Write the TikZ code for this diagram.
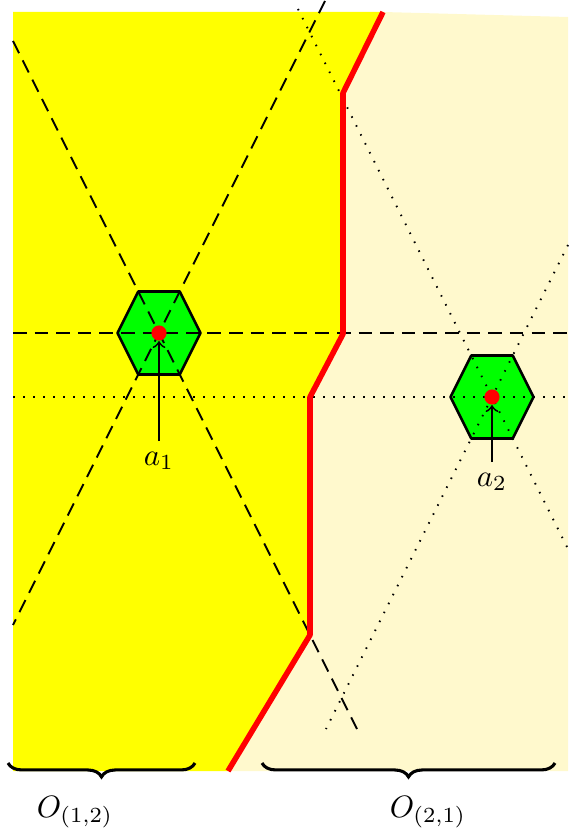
\documentclass[tikz,border=0pt]{standalone}
\usetikzlibrary{decorations.pathreplacing,calc}
\definecolor{lightyel}{RGB}{255,249,205}
\definecolor{brightyel}{RGB}{255,255,0}
\definecolor{brightgreen}{RGB}{0,255,0}
\definecolor{brightred}{RGB}{255,0,0}
\begin{document}
\begin{tikzpicture}[x=0.324pt,y=-0.324pt,
  dashedline/.style={line width=0.65pt,dash pattern=on 4.4pt off 2.6pt},
  dottedline/.style={line width=0.6pt,dash pattern=on 0.5pt off 2.74pt},
  boundary/.style={brightred,line width=1.8pt,line join=round},
  hexa/.style={fill=brightgreen,draw=black,line width=0.85pt,line join=round},
  site/.style={circle,fill=brightred,inner sep=0pt,minimum size=4.9pt},
  lbl/.style={anchor=north,inner sep=3.33pt},
  pointer/.style={->,line width=0.6pt},
  bracedec/.style={decorate,decoration={brace,mirror,amplitude=4.5pt},line width=1pt},
]
\useasboundingbox (0,0) rectangle (568,834);
\coordinate (a1) at (159,333);
\coordinate (a2) at (492,397);
\coordinate (r0) at (383,12);
\coordinate (r1) at (343,93);
\coordinate (r2) at (343,334);
\coordinate (r3) at (310,397);
\coordinate (r4) at (310,635);
\coordinate (r5) at (228,771);
% regions
\fill[brightyel] (13,12) -- (r0) -- (r1) -- (r2) -- (r3) -- (r4) -- (r5) -- (13,771) -- cycle;
\fill[lightyel] (r0) -- (568,17) -- (568,771) -- (r5) -- (r4) -- (r3) -- (r2) -- (r1) -- cycle;
% hexagons
\draw[hexa] (a1) ++(-41.5,0) -- ++(20.75,-41.5) -- ++(41.5,0) -- ++(20.75,41.5) -- ++(-20.75,41.5) -- ++(-41.5,0) -- cycle;
\draw[hexa] (a2) ++(-41.5,0) -- ++(20.75,-41.5) -- ++(41.5,0) -- ++(20.75,41.5) -- ++(-20.75,41.5) -- ++(-41.5,0) -- cycle;
% lines through a1
\coordinate (p1) at (13,41);   \coordinate (p2) at (357,729);
\coordinate (p3) at (325,1);   \coordinate (p4) at (13,625);
\coordinate (p5) at (13,333);  \coordinate (p6) at (568,333);
\draw[dashedline] (p1) -- (p2);
\draw[dashedline] (p3) -- (p4);
\draw[dashedline] (p5) -- (p6);
% lines through a2
\coordinate (q1) at (298,9);   \coordinate (q2) at (568,549);
\coordinate (q3) at (568,245); \coordinate (q4) at (326,729);
\coordinate (q5) at (13,397);  \coordinate (q6) at (568,397);
\draw[dottedline] (q1) -- (q2);
\draw[dottedline] (q3) -- (q4);
\draw[dottedline] (q5) -- (q6);
% boundary
\draw[boundary] (r0) -- (r1) -- (r2) -- (r3) -- (r4) -- (r5);
% sites
\node[site] (s1) at (a1) {};
\node[site] (s2) at (a2) {};
\node[lbl] (l1) at (159,441) {$a_1$};
\node[lbl] (l2) at (492,462) {$a_2$};
\draw[pointer] (l1) -- (s1);
\draw[pointer] (l2) -- (s2);
% braces
\coordinate (b1) at (8,763);   \coordinate (b2) at (195,763);
\coordinate (b3) at (262,763); \coordinate (b4) at (555,763);
\draw[bracedec] (b1) -- (b2);
\draw[bracedec] (b3) -- (b4);
\node (o1) at (75,812) {$O_{(1,2)}$};
\node (o2) at (428,812) {$O_{(2,1)}$};
\end{tikzpicture}
\end{document}
